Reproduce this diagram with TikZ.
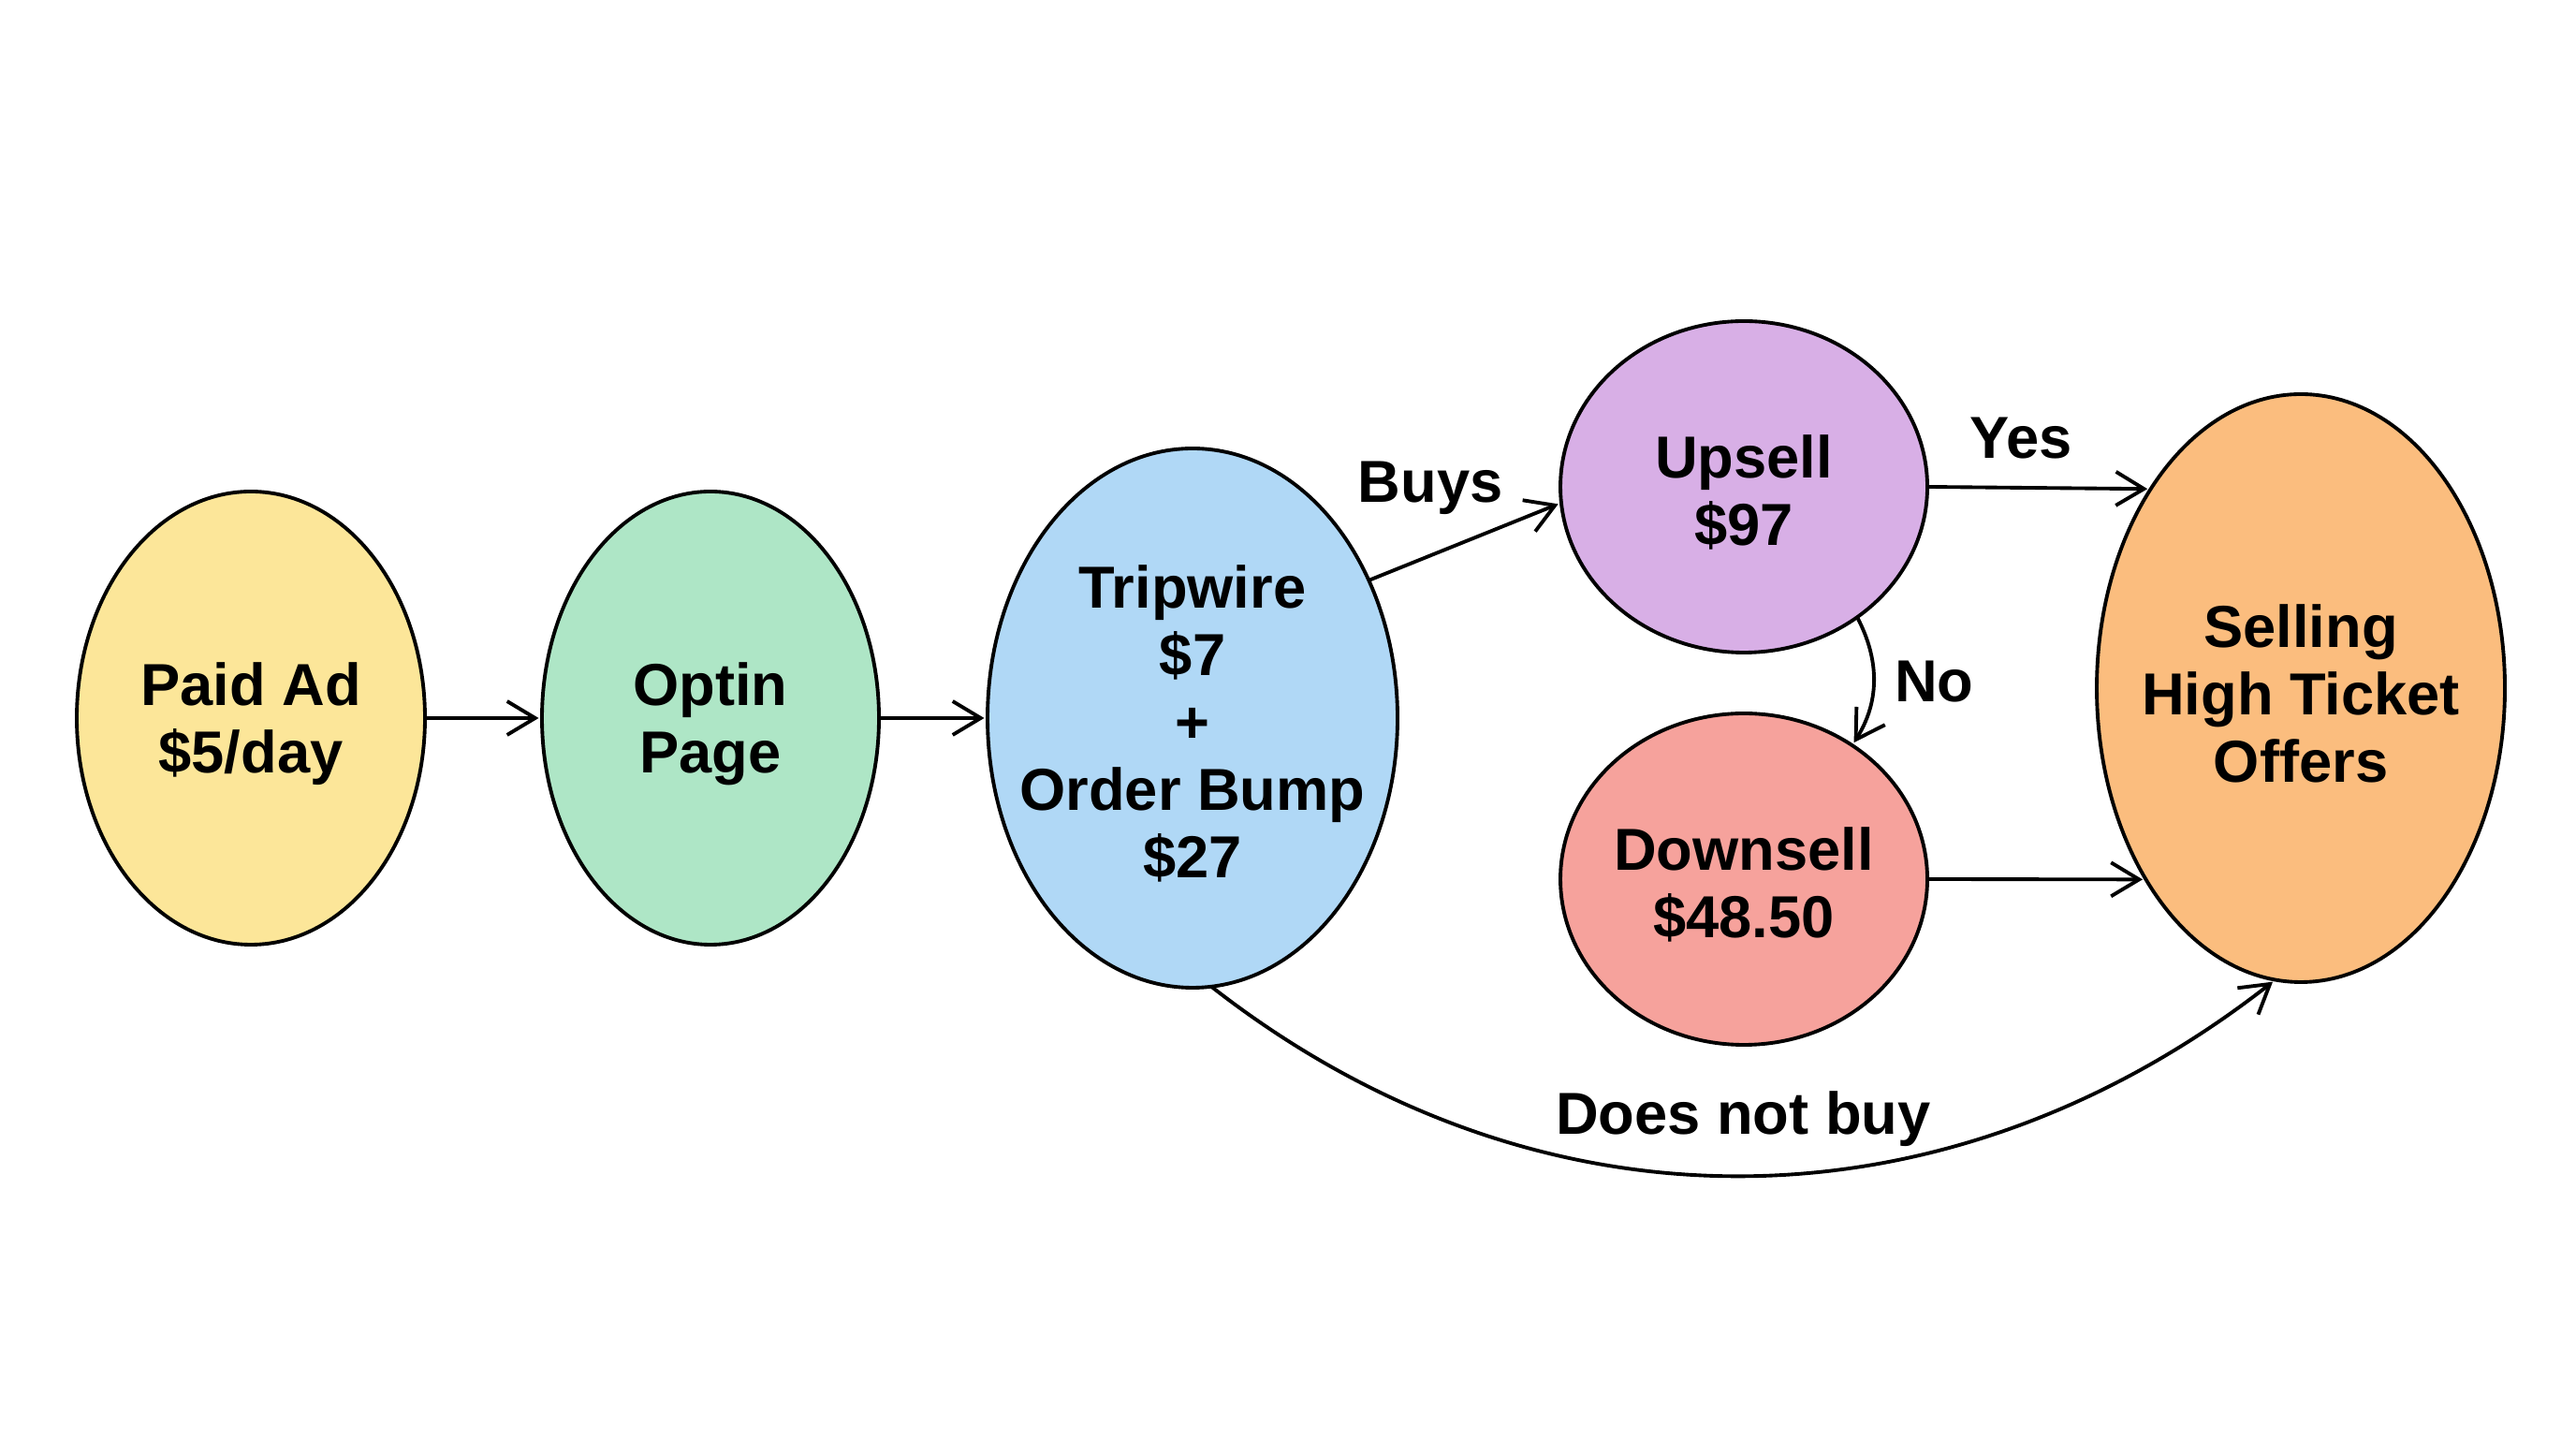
\documentclass[tikz,border=0pt]{standalone}
\usepackage{fontspec}
\setmainfont{Liberation Sans}
\usetikzlibrary{arrows.meta,positioning,shapes.geometric}

\definecolor{adyellow}{HTML}{FCE699}
\definecolor{optgreen}{HTML}{AEE6C6}
\definecolor{tripblue}{HTML}{B0D8F6}
\definecolor{upviolet}{HTML}{D8AFE6}
\definecolor{downred}{HTML}{F6A29C}
\definecolor{sellorange}{HTML}{FBBD7E}

\begin{document}
\begin{tikzpicture}[
	> = {Straight Barb[length=3mm, width=3.6mm]}, % open arrow head
	shorten > = 1pt, % arrow head stops short of the node
	line width = 1.1pt, % line style
	T/.style={align=center, font=\bfseries\fontsize{18}{20.5}\selectfont},
	F/.style={ellipse, draw=black, inner sep=0pt, outer sep=0pt, label={[T, yshift=-0.06cm]center:#1}},  % funnel step, text in the middle
	]
	\useasboundingbox (0,0) rectangle (27.52,15.36);

	% Front of the funnel
	\node[F={Paid Ad\\\$5/day}, fill=adyellow, minimum width=3.72cm, minimum height=4.84cm] (paid) at (2.68,7.69) {};
	\node[F={Optin\\Page}, fill=optgreen, minimum width=3.6cm, minimum height=4.84cm] (optin) [right = 1.25 of paid] {};
	\node[F={Tripwire\\\$7\\+\\Order Bump\\\$27}, fill=tripblue, minimum width=4.38cm, minimum height=5.76cm] (trip) [right = 1.16 of optin] {};
	% Offers after the tripwire
	\node[F={Upsell\\\$97}, fill=upviolet, minimum width=3.92cm, minimum height=3.54cm] (up) [right = 1.74 of trip, yshift=2.47cm] {};
	\node[F={Downsell\\\$48.50}, fill=downred, minimum width=3.92cm, minimum height=3.54cm] (down) [below = 0.65 of up] {};
	\node[F={Selling\\High Ticket\\Offers}, fill=sellorange, minimum width=4.36cm, minimum height=6.28cm] (sell) [right = 1.81 of up, yshift=-2.15cm] {};

	% Arrows between the steps
	\path[->] (paid) edge (optin);
	\path[->] (optin) edge (trip);
	\path[->] (trip.38) edge node[T, pos=0.32, above=0.3cm] {Buys} (up.185);
	\path[->] (up.east) edge node[T, pos=0.42, above=0.17cm] {Yes} (sell.127);
	\path[->] (up.311) edge[bend left=30] node[T, right=0.09cm] {No} (down.51);
	\path[->] (down.east) edge (sell.231);
	\path[->] (trip.-86) edge[out=-38, in=-142] node[T, above=0.17cm] {Does not buy} (sell.265);

\end{tikzpicture}
\end{document}
